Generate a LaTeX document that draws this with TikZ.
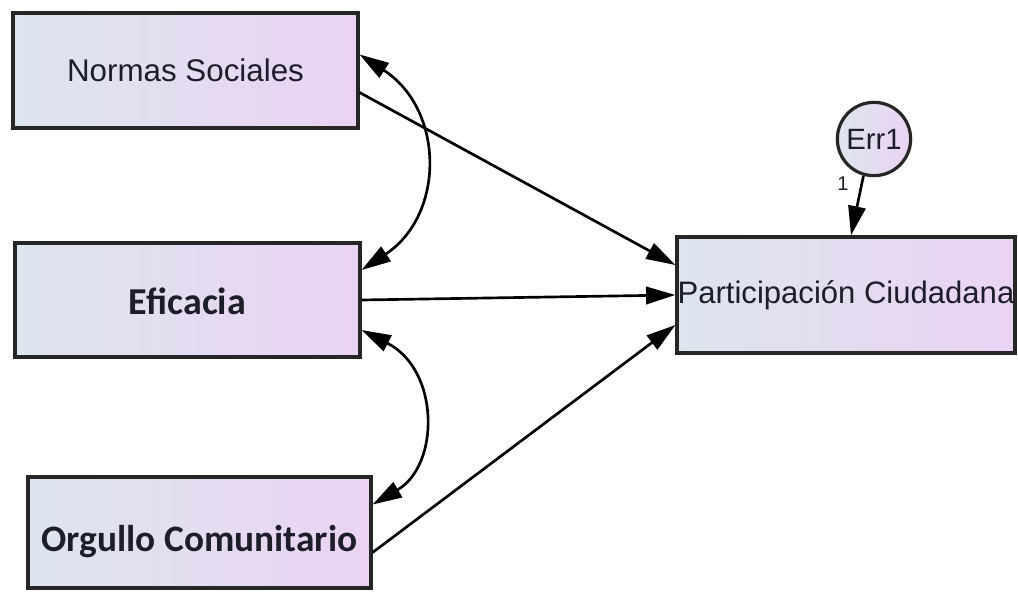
\documentclass[tikz,border=0pt]{standalone}
\usepackage{fontspec}
\setmainfont{Liberation Sans}
\newfontfamily\carl{Carlito}
\usetikzlibrary{arrows.meta,calc,shapes.geometric}
\definecolor{boxleft}{HTML}{DDE5EE}
\definecolor{boxright}{HTML}{EBD3F3}
\definecolor{txt}{HTML}{1E1E2A}
\tikzset{
  varbox/.style={draw=black!85, line width=2.4pt, left color=boxleft, right color=boxright, shading angle=90, inner sep=0pt, text=txt},
  errcirc/.style={circle, draw=black!85, line width=2.4pt, left color=boxleft, right color=boxright, minimum size=55pt, inner sep=0pt, text=txt, font=\fontsize{22}{22}\selectfont},
  path/.style={line width=2pt, -{Triangle[length=22pt,width=13pt]}},
  cov/.style={line width=2pt, {Triangle[length=22pt,width=13pt]}-{Triangle[length=22pt,width=13pt]}},
}
\begin{document}
\begin{tikzpicture}[x=0.75pt,y=-0.75pt]
\useasboundingbox (0,0) rectangle (1018,592);
\node[varbox, minimum width=258.75pt, minimum height=86.25pt, font=\fontsize{23.5}{24}\selectfont, text height=20pt, text depth=4pt] (ns) at (185.5,70.5) {Normas Sociales};
\node[varbox, minimum width=258.75pt, minimum height=85.5pt, font=\carl\bfseries\fontsize{28.5}{29}\selectfont, text height=24pt, text depth=2pt] (ef) at (187.5,300) {Eficacia};
\node[varbox, minimum width=257.25pt, minimum height=83.25pt, font=\carl\bfseries\fontsize{28}{29}\selectfont, text height=30pt, text depth=2pt] (org) at (199.5,532.5) {Orgullo Comunitario};
\node[varbox, minimum width=253.5pt, minimum height=87pt, font=\fontsize{23.3}{24}\selectfont] (part) at (846,295) {Participación Ciudadana};
\node[errcirc] (err) at (874,139) {Err1};
\draw[path] ($(ns.east)+(0,22)$) -- ($(part.west)+(0,-30)$);
\draw[path] (ef.east) -- (part.west);
\draw[path] ($(org.east)+(0,20)$) -- ($(part.west)+(0,30)$);
\draw[path] (err.-106) -- ($(part.north)+(5,0)$);
\node[font=\fontsize{15}{15}\selectfont, text=txt] (one) at (843,184) {1};
\draw[cov] ($(ns.east)+(0,-16)$) .. controls (445,110) and (445,215) .. ($(ef.east)+(0,-30)$);
\draw[cov] ($(ef.east)+(0,30)$) .. controls (440,370) and (440,465) .. ($(org.east)+(0,-28)$);
\end{tikzpicture}
\end{document}
